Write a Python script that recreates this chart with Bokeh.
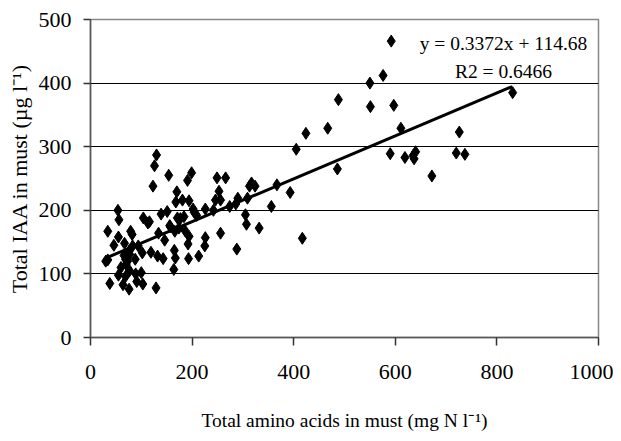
from bokeh.plotting import figure
from bokeh.models import ColumnDataSource, Label, FixedTicker, Range1d
from bokeh.embed import file_html
from bokeh.resources import INLINE

amino = [592, 550, 576, 551, 597, 488, 467, 424, 611, 726, 831, 405, 590, 619, 637, 640, 635,
         720, 737, 672, 486, 393, 367, 356, 417, 332, 307, 305, 309, 313, 317, 324, 290, 286,
         288, 274, 266, 249, 253, 256, 246, 242, 256, 226, 226, 225, 213, 199, 191, 202, 209,
         194, 181, 170, 168, 171, 177, 184, 174, 166, 194, 192, 193, 165, 167, 164, 154, 151,
         156, 139, 146, 143, 132, 134, 130, 126, 123, 119, 129, 113, 116, 104, 102, 100, 103,
         94, 88, 89, 91, 82, 79, 83, 76, 73, 76, 77, 67, 66, 70, 69, 64, 60, 54, 56, 55, 55,
         46, 34, 38, 30, 34, 69, 77, 186, 204, 157]
iaa = [466, 400, 412, 363, 365, 374, 329, 321, 329, 323, 385, 296, 289, 283, 281, 292, 286,
       290, 288, 254, 265, 228, 240, 206, 156, 172, 178, 193, 219, 238, 243, 238, 219, 210,
       139, 206, 251, 251, 230, 216, 216, 200, 164, 202, 157, 144, 128, 259, 247, 202, 192,
       215, 216, 229, 213, 188, 187, 190, 172, 167, 159, 147, 124, 137, 125, 107, 255, 198,
       176, 194, 153, 124, 128, 164, 287, 270, 238, 134, 78, 180, 182, 188, 133, 102, 84,
       144, 123, 100, 88, 162, 167, 144, 136, 120, 76, 105, 148, 129, 115, 96, 83, 110, 200,
       185, 158, 98, 145, 167, 85, 120, 122, 123, 131, 168, 197, 174]

slope = 0.3372
intercept = 114.68
fit_x = [30, 830]
fit_y = [slope * v + intercept for v in fit_x]

x_ticks = [0, 200, 400, 600, 800, 1000]
y_ticks = [0, 100, 200, 300, 400, 500]
eq_text = "y = 0.3372x + 114.68"
r2_text = "R2 = 0.6466"

FONT = "Liberation Serif"

p = figure(width=613, height=433, output_backend="svg", toolbar_location=None,
           x_range=Range1d(0, 1000), y_range=Range1d(0, 500),
           min_border_left=90, min_border_right=15, min_border_top=19, min_border_bottom=92)
p.outline_line_color = "#888888"
p.outline_line_width = 1.5

src = ColumnDataSource(dict(x=amino, y=iaa))
p.scatter("x", "y", source=src, marker="diamond", size=12, color="black")
p.line(fit_x, fit_y, line_color="black", line_width=3)

p.xgrid.visible = False
p.ygrid.grid_line_color = "black"
p.ygrid.grid_line_width = 1.2

p.xaxis.ticker = FixedTicker(ticks=x_ticks)
p.yaxis.ticker = FixedTicker(ticks=y_ticks)
for ax in (p.xaxis, p.yaxis):
    ax.axis_line_color = "#555555"
    ax.axis_line_width = 1.5
    ax.major_tick_line_color = "#333333"
    ax.major_tick_line_width = 1.5
    ax.minor_tick_line_color = None
    ax.major_tick_in = 0
    ax.major_label_text_font = FONT
    ax.major_label_text_font_size = "22px"
    ax.major_label_text_color = "black"
    ax.axis_label_text_font = FONT
    ax.axis_label_text_font_style = "normal"
    ax.axis_label_text_color = "black"

p.xaxis.major_tick_out = 8
p.xaxis.major_label_standoff = 19
p.xaxis.axis_label = "Total amino acids in must (mg N l⁻¹)"
p.xaxis.axis_label_standoff = 28
p.xaxis.axis_label_text_font_size = "19.5px"
p.yaxis.major_tick_out = 7
p.yaxis.major_label_standoff = 12
p.yaxis.axis_label = "Total IAA in must (µg l⁻¹)"
p.yaxis.axis_label_standoff = 4
p.yaxis.axis_label_text_font_size = "22px"

p.add_layout(Label(x=813, y=462, text=eq_text, text_align="center", text_baseline="middle",
                   text_font=FONT, text_font_size="19.5px", text_color="black"))
p.add_layout(Label(x=813, y=418, text=r2_text, text_align="center", text_baseline="middle",
                   text_font=FONT, text_font_size="19.5px", text_color="black"))

open("out.html", "w").write(file_html(p, INLINE))
